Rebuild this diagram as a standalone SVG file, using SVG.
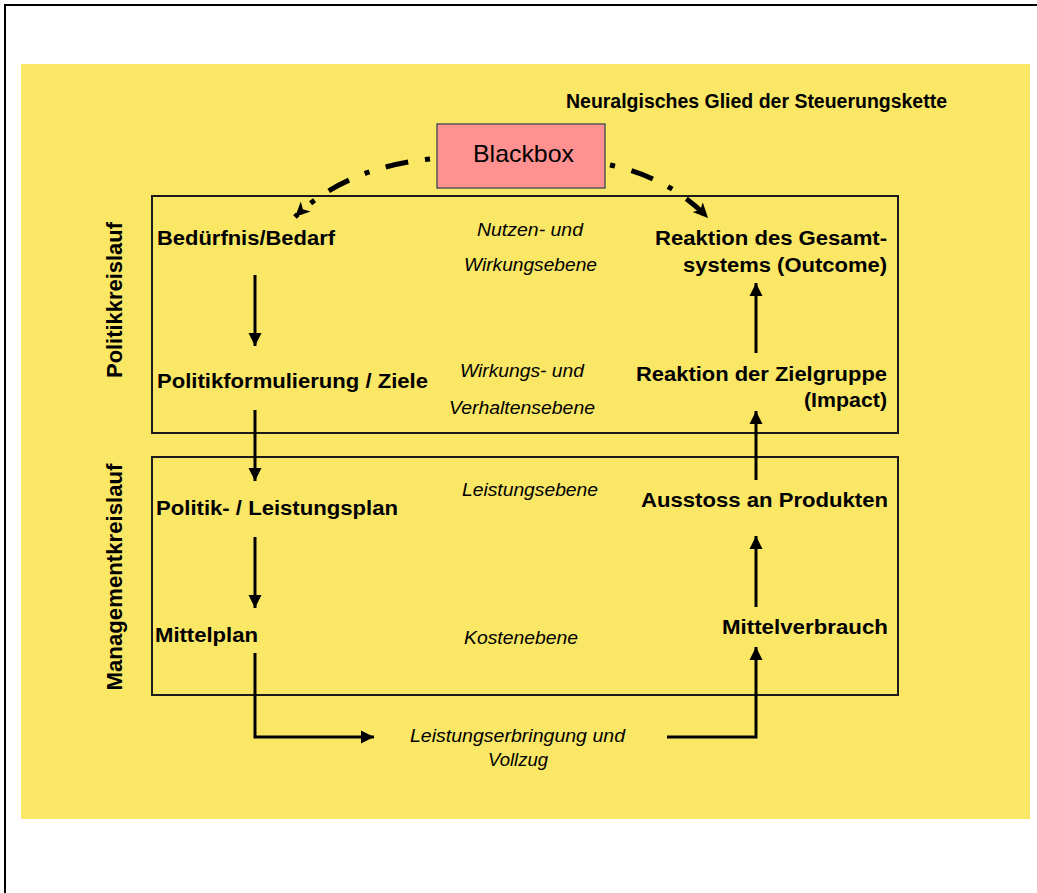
<svg xmlns="http://www.w3.org/2000/svg" width="1037" height="893" viewBox="0 0 1037 893">
  <style>
    .lbl { font-family: "Liberation Sans", Arial, sans-serif; font-weight: bold; font-size: 20px; fill: #000; }
    .lvl { font-family: "Liberation Sans", Arial, sans-serif; font-style: italic; font-size: 18px; fill: #000; }
    .side { font-family: "Liberation Sans", Arial, sans-serif; font-weight: bold; font-size: 22px; fill: #000; }
    .frame { fill: none; stroke: #1a1a1a; stroke-width: 2; }
    .arr { fill: none; stroke: #000; stroke-width: 3; marker-end: url(#head); }
    .dd { fill: none; stroke: #000; stroke-width: 5; stroke-dasharray: 5 17 23 17; marker-end: url(#stealth); }
  </style>
  <defs>
    <marker id="head" markerUnits="userSpaceOnUse" markerWidth="15" markerHeight="15" refX="13" refY="7" orient="auto">
      <path d="M0,0.5 L13,7 L0,13.5 z" fill="#000"/>
    </marker>
    <marker id="stealth" markerUnits="userSpaceOnUse" markerWidth="18" markerHeight="16" refX="15" refY="8" orient="auto">
      <path d="M0,1 L15,8 L0,15 L4,8 z" fill="#000"/>
    </marker>
  </defs>

  <!-- outer frame lines -->
  <path d="M5,893 L5,5 L1037,5" fill="none" stroke="#000" stroke-width="2"/>
  <!-- yellow background -->
  <rect x="21" y="64" width="1009" height="755" fill="#FAE766"/>

  <g id="title">
    <text class="lbl" x="566" y="108" font-size="17" textLength="381" lengthAdjust="spacingAndGlyphs">Neuralgisches Glied der Steuerungskette</text>
  </g>

  <g id="politik-frame">
    <rect class="frame" x="152" y="196" width="746" height="237"/>
  </g>
  <g id="management-frame">
    <rect class="frame" x="152" y="457" width="746" height="238"/>
  </g>

  <g id="side-politik">
    <text class="side" transform="translate(122,300) rotate(-90)" text-anchor="middle" textLength="156" lengthAdjust="spacingAndGlyphs">Politikkreislauf</text>
  </g>
  <g id="side-management">
    <text class="side" transform="translate(122,577) rotate(-90)" text-anchor="middle" textLength="227" lengthAdjust="spacingAndGlyphs">Managementkreislauf</text>
  </g>

  <g id="blackbox">
    <rect x="437" y="124" width="168" height="64" fill="#FF9190" stroke="#555" stroke-width="1.5"/>
    <text x="473" y="162" font-family="Liberation Sans, Arial, sans-serif" font-size="24" textLength="101" lengthAdjust="spacingAndGlyphs">Blackbox</text>
  </g>

  <g id="beduerfnis"><text class="lbl" x="157" y="245" textLength="178" lengthAdjust="spacingAndGlyphs">Bedürfnis/Bedarf</text></g>
  <g id="politikformulierung"><text class="lbl" x="157" y="388" textLength="271" lengthAdjust="spacingAndGlyphs">Politikformulierung / Ziele</text></g>
  <g id="leistungsplan"><text class="lbl" x="156" y="515" textLength="242" lengthAdjust="spacingAndGlyphs">Politik- / Leistungsplan</text></g>
  <g id="mittelplan"><text class="lbl" x="155" y="642" textLength="103" lengthAdjust="spacingAndGlyphs">Mittelplan</text></g>

  <g id="outcome">
    <text class="lbl" x="655" y="245" textLength="232" lengthAdjust="spacingAndGlyphs">Reaktion des Gesamt-</text>
    <text class="lbl" x="683" y="272" textLength="204" lengthAdjust="spacingAndGlyphs">systems (Outcome)</text>
  </g>
  <g id="impact">
    <text class="lbl" x="636" y="381" textLength="251" lengthAdjust="spacingAndGlyphs">Reaktion der Zielgruppe</text>
    <text class="lbl" x="804" y="407" textLength="83" lengthAdjust="spacingAndGlyphs">(Impact)</text>
  </g>
  <g id="ausstoss"><text class="lbl" x="641" y="507" textLength="247" lengthAdjust="spacingAndGlyphs">Ausstoss an Produkten</text></g>
  <g id="mittelverbrauch"><text class="lbl" x="722" y="634" textLength="166" lengthAdjust="spacingAndGlyphs">Mittelverbrauch</text></g>

  <g id="levels">
    <text class="lvl" x="477" y="236" textLength="106" lengthAdjust="spacingAndGlyphs">Nutzen- und</text>
    <text class="lvl" x="464" y="271" textLength="133" lengthAdjust="spacingAndGlyphs">Wirkungsebene</text>
    <text class="lvl" x="460" y="377" textLength="124" lengthAdjust="spacingAndGlyphs">Wirkungs- und</text>
    <text class="lvl" x="449" y="414" textLength="146" lengthAdjust="spacingAndGlyphs">Verhaltensebene</text>
    <text class="lvl" x="462" y="496" textLength="136" lengthAdjust="spacingAndGlyphs">Leistungsebene</text>
    <text class="lvl" x="464" y="644" textLength="114" lengthAdjust="spacingAndGlyphs">Kostenebene</text>
  </g>
  <g id="vollzug">
    <text class="lvl" x="410" y="742" textLength="215" lengthAdjust="spacingAndGlyphs">Leistungserbringung und</text>
    <text class="lvl" x="488" y="766" textLength="60" lengthAdjust="spacingAndGlyphs">Vollzug</text>
  </g>

  <g id="connectors">
    <path class="arr" d="M255,275 L255,346"/>
    <path class="arr" d="M255,410 L255,481"/>
    <path class="arr" d="M255,537 L255,608"/>
    <path class="arr" d="M255,653 L255,737 L374,737"/>
    <path class="arr" d="M667,737 L756,737 L756,647"/>
    <path class="arr" d="M756,607 L756,536"/>
    <path class="arr" d="M756,480 L756,411"/>
    <path class="arr" d="M756,353 L756,283"/>
    <path class="dd" d="M430,159 Q345,168 295,217"/>
    <path class="dd" d="M610,165 Q670,178 708,218"/>
  </g>
</svg>
